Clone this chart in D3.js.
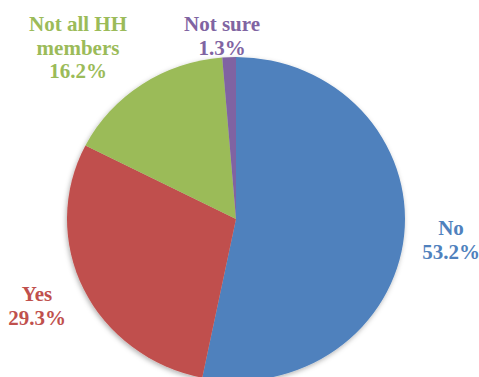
<!DOCTYPE html>
<html>
<head>
<meta charset="utf-8">
<script src="https://cdn.jsdelivr.net/npm/d3@7"></script>
<style>
  html, body { margin: 0; padding: 0; background: #fff; }
  svg { display: block; }
</style>
</head>
<body>
<script>
// Survey answers, clockwise from 12 o'clock
const categories = ["No", "Yes", "Not all HH members", "Not sure"];
const values = [53.2, 29.3, 16.2, 1.3];
const colors = ["#4F81BD", "#C0504D", "#9BBB59", "#8064A2"];
// Label text lines (name lines, then percentage)
const labelLines = [["No"], ["Yes"], ["Not all HH", "members"], ["Not sure"]];

const W = 479, H = 377;
const cx = 236, cy = 219, rx = 169, ry = 162;
const FONT = "Liberation Serif, DejaVu Serif, serif";

// Label anchor points (centre x, baseline of first line)
const labelPos = [[451, 235], [37, 301], [78, 31], [222, 31]];
const lineHeight = 23.5;

const svg = d3.select("body").append("svg")
  .attr("width", W).attr("height", H);

const defs = svg.append("defs");
const f = defs.append("filter").attr("id", "shadow")
  .attr("x", "-10%").attr("y", "-10%").attr("width", "120%").attr("height", "120%");
f.append("feDropShadow").attr("dx", -1).attr("dy", 2)
  .attr("stdDeviation", 2.5).attr("flood-color", "#000").attr("flood-opacity", 0.3);

const pie = d3.pie().sort(null).value(d => d)(values);
const arc = d3.arc().innerRadius(0).outerRadius(rx);

const g = svg.append("g")
  .attr("transform", `translate(${cx},${cy}) scale(1,${ry / rx})`)
  .attr("filter", "url(#shadow)");

g.selectAll("path").data(pie).join("path")
  .attr("d", arc)
  .attr("fill", (d, i) => colors[i]);

const fmt = v => v.toFixed(1) + "%";

const labels = svg.selectAll("text.lbl").data(pie).join("text")
  .attr("class", "lbl")
  .attr("text-anchor", "middle")
  .attr("font-weight", "bold")
  .attr("font-size", 21)
  .style("font-family", FONT)
  .attr("fill", (d, i) => colors[i])
  .attr("x", (d, i) => labelPos[i][0])
  .attr("y", (d, i) => labelPos[i][1]);

labels.each(function (d, i) {
  const t = d3.select(this);
  const lines = labelLines[i].concat([fmt(d.data)]);
  lines.forEach((s, k) => {
    t.append("tspan")
      .attr("x", labelPos[i][0])
      .attr("dy", k === 0 ? 0 : lineHeight)
      .style("font-family", FONT)
      .text(s);
  });
});
</script>
</body>
</html>
